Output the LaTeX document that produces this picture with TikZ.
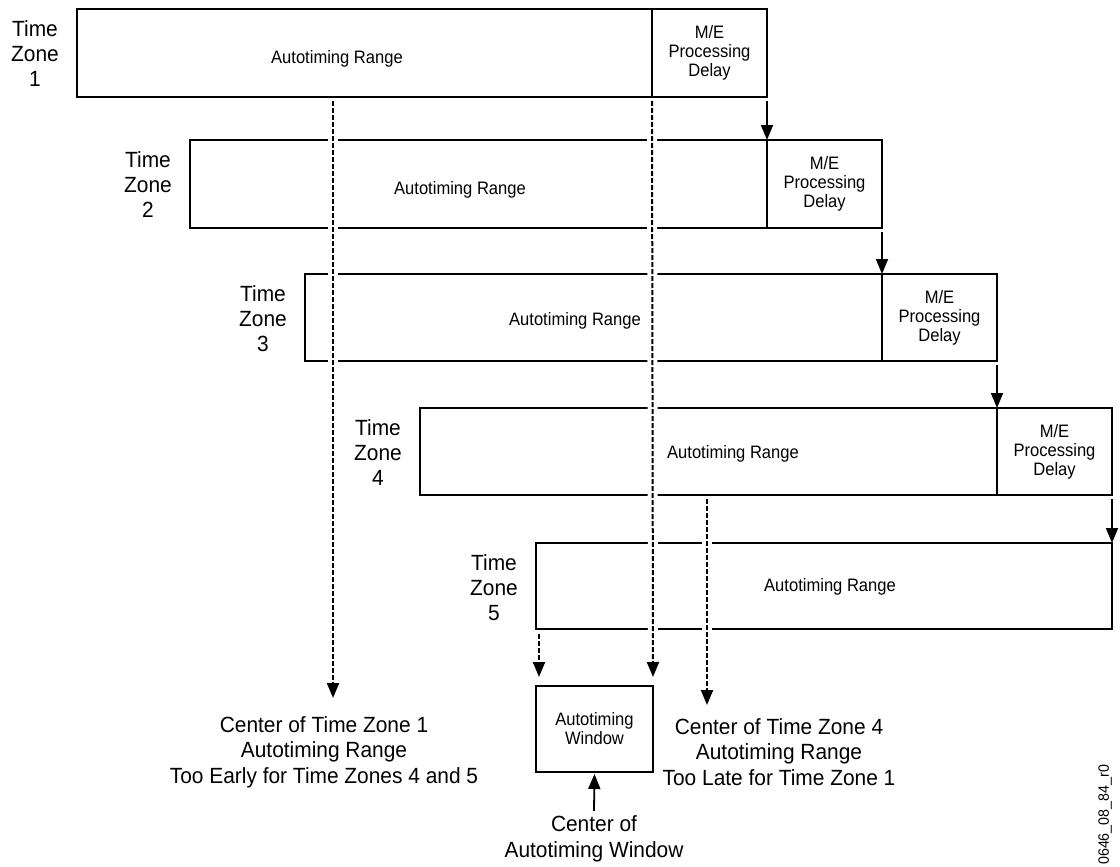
\documentclass[tikz,border=0pt]{standalone}
\usepackage{fontspec}
\setmainfont{Liberation Sans}[FakeStretch=0.95]
\newfontfamily\smallfont{Liberation Sans}[FakeStretch=0.92]
\usetikzlibrary{arrows.meta,fit}
\begin{document}
\begin{tikzpicture}[x=1pt,y=-1pt,
  boxstyle/.style={draw, line width=1.8pt, inner sep=0pt, outer sep=0pt},
  small/.style={font=\smallfont\fontsize{18}{19}\selectfont, align=center, inner sep=0pt},
  big/.style={font=\fontsize{22}{25.5}\selectfont, align=center, inner sep=0pt},
  zonelab/.style={font=\fontsize{22}{25}\selectfont, align=center, inner sep=0pt},
  arr/.style={line width=1.8pt, -{Triangle[length=15pt,width=12pt]}},
  dasharr/.style={line width=2pt, dash pattern=on 5pt off 2pt, -{Triangle[length=15pt,width=12pt]}},
  halo/.style={draw=white, line width=10pt},
]
\useasboundingbox (0,0) rectangle (1120,867);

% boxes
\node[boxstyle, fit={(77,9)(652,97)}] (r1) {};
\node[boxstyle, fit={(652,9)(767,97)}] (m1) {};
\node[boxstyle, fit={(190,140)(767,228)}] (r2) {};
\node[boxstyle, fit={(767,140)(882,228)}] (m2) {};
\node[boxstyle, fit={(305,274)(882,361)}] (r3) {};
\node[boxstyle, fit={(882,274)(997,361)}] (m3) {};
\node[boxstyle, fit={(420,408)(997,495)}] (r4) {};
\node[boxstyle, fit={(997,408)(1112,495)}] (m4) {};
\node[boxstyle, fit={(536,543)(1112,629)}] (r5) {};
\node[boxstyle, fit={(536,686)(653,772)}] (w) {};

% dashed connectors
\coordinate (d1a) at (333,101);
\coordinate (d1b) at (333,698);
\coordinate (d3a) at (707,499);
\coordinate (d3b) at (707,705);
\coordinate (d4a) at (539,634);
\coordinate (d4b) at (539,677);
\draw[halo] (d1a) -- (d1b);
\draw[halo] ([yshift=-4pt]r1.south east) -- ([yshift=9pt]w.north east);
\draw[halo] (d3a) -- (d3b);
\draw[halo] (d4a) -- (d4b);
\draw[dasharr] (d1a) -- (d1b);
\draw[dasharr] ([yshift=-4pt]r1.south east) -- ([yshift=9pt]w.north east);
\draw[dasharr] (d3a) -- (d3b);
\draw[dasharr] (d4a) -- (d4b);

% processing delay arrows
\draw[arr] ([yshift=-4pt]m1.south east) -- (m2.north west);
\draw[arr] ([yshift=-4pt]m2.south east) -- (m3.north west);
\draw[arr] ([yshift=-4pt]m3.south east) -- (m4.north west);
\draw[arr] ([yshift=-4pt]m4.south east) -- (r5.north east);

% texts in boxes
\node[small] (a1) at (337,59) {Autotiming Range};
\node[small] (a2) at (460,190) {Autotiming Range};
\node[small] (a3) at (575,321) {Autotiming Range};
\node[small] (a4) at (733,454) {Autotiming Range};
\node[small] (a5) at (830,587) {Autotiming Range};
\node[small] (p1) at (m1.center) {M/E\\Processing\\Delay};
\node[small] (p2) at (m2.center) {M/E\\Processing\\Delay};
\node[small] (p3) at (m3.center) {M/E\\Processing\\Delay};
\node[small] (p4) at (m4.center) {M/E\\Processing\\Delay};
\node[small] (wt) at (w.center) {Autotiming\\Window};

% zone labels
\node[zonelab] (z1) at (35,54) {Time\\Zone\\1};
\node[zonelab] (z2) at (148,185) {Time\\Zone\\2};
\node[zonelab] (z3) at (263,319) {Time\\Zone\\3};
\node[zonelab] (z4) at (378,453) {Time\\Zone\\4};
\node[zonelab] (z5) at (494,588) {Time\\Zone\\5};

% bottom texts
\node[big] (t1) at (324,752) {Center of Time Zone 1\\Autotiming Range\\Too Early for Time Zones 4 and 5};
\node[big] (t4) at (779,752) {Center of Time Zone 4\\Autotiming Range\\Too Late for Time Zone 1};
\node[big] (tw) at (594,839) {Center of\\Autotiming Window};
\draw[arr] ([yshift=5pt]tw.north) -- ([yshift=-2pt]w.south);

% figure id
\node[font=\fontsize{15}{15}\selectfont, rotate=90, anchor=west, inner sep=0pt] (id) at (1105,865) {0646\_08\_84\_r0};
\end{tikzpicture}
\end{document}
